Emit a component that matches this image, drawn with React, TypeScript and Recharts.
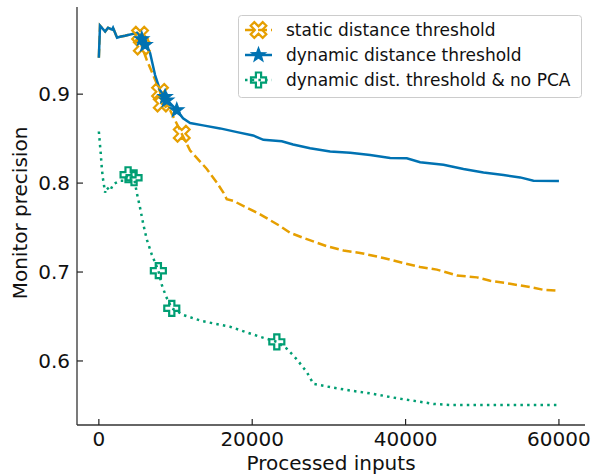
import React from "react";
import { LineChart, Line, XAxis, YAxis } from "recharts";

// values
const dynamicX = [0, 150, 822, 1200, 1722, 1852, 2374, 2765, 3417, 4983, 5600, 6030, 6680, 7330, 7980, 8640, 8850, 9290, 10160, 10980, 11900, 13590, 15810, 18030, 20110, 21460, 23860, 25330, 27550, 30160, 32770, 35380, 37990, 40160, 41900, 44940, 47550, 50160, 52770, 54940, 56680, 60000];
const dynamicY = [0.941, 0.977, 0.9705, 0.9747, 0.9725, 0.9747, 0.9634, 0.9645, 0.9657, 0.969, 0.962, 0.9555, 0.9464, 0.9215, 0.9045, 0.897, 0.893, 0.8898, 0.882, 0.8728, 0.8675, 0.8649, 0.8615, 0.8573, 0.8536, 0.8487, 0.8471, 0.8434, 0.8392, 0.8355, 0.834, 0.8317, 0.8283, 0.8279, 0.8234, 0.8207, 0.8159, 0.812, 0.8091, 0.8064, 0.8026, 0.8023];
const dynamicMarks = [5600, 6030, 8640, 8850, 10160];

const staticX = [0, 150, 822, 1200, 1722, 1852, 2374, 2765, 3417, 4983, 5370, 5600, 6250, 6900, 7550, 7980, 8200, 9290, 10810, 11900, 14080, 15380, 16240, 16680, 17540, 19290, 21030, 23640, 24950, 26680, 29730, 31900, 34070, 37110, 39720, 41900, 44080, 46690, 49300, 51030, 53640, 56250, 57990, 60000];
const staticY = [0.941, 0.977, 0.9705, 0.9747, 0.9725, 0.9747, 0.9634, 0.9645, 0.9657, 0.969, 0.9668, 0.9536, 0.9385, 0.9252, 0.9121, 0.9026, 0.8895, 0.8819, 0.8555, 0.8366, 0.8159, 0.8007, 0.7894, 0.7819, 0.78, 0.7724, 0.7649, 0.7517, 0.7441, 0.7384, 0.729, 0.7242, 0.7215, 0.7158, 0.7101, 0.7056, 0.7027, 0.6962, 0.694, 0.6902, 0.6868, 0.683, 0.68, 0.6789];
const staticMarks = [5370, 5600, 7980, 8200, 10810];

const noPcaX = [0, 250, 380, 510, 680, 810, 1030, 1460, 1890, 2770, 3200, 3810, 4590, 4940, 5370, 5800, 6250, 6900, 7760, 8200, 8770, 9510, 11020, 13420, 17110, 19720, 21030, 23210, 24510, 25810, 27120, 27980, 30160, 32770, 35810, 38860, 41470, 43640, 45800, 60000];
const noPcaY = [0.858, 0.8329, 0.8177, 0.8064, 0.797, 0.7894, 0.7951, 0.7913, 0.7989, 0.8026, 0.8026, 0.8094, 0.806, 0.7894, 0.7724, 0.7536, 0.7366, 0.7197, 0.7015, 0.6857, 0.6724, 0.6592, 0.6517, 0.6449, 0.6385, 0.6309, 0.6272, 0.6215, 0.6139, 0.6019, 0.5875, 0.5743, 0.5706, 0.5668, 0.563, 0.5581, 0.5547, 0.5517, 0.5505, 0.5505];
const noPcaMarks = [3810, 4590, 7760, 9510, 23210];

const xTicks = [0, 20000, 40000, 60000];
const yTicks = [0.6, 0.7, 0.8, 0.9];
const seriesNames = ["static distance threshold", "dynamic distance threshold", "dynamic dist. threshold & no PCA"];

const ORANGE = "#E69F00";
const BLUE = "#0072B2";
const GREEN = "#009E73";
const FONT = "DejaVu Sans, sans-serif";

const toRows = (xs: number[], ys: number[]) => xs.map((x, i) => ({ x, y: ys[i] }));
const staticData = toRows(staticX, staticY);
const dynamicData = toRows(dynamicX, dynamicY);
const noPcaData = toRows(noPcaX, noPcaY);

function plusPoints(cx: number, cy: number, r: number, w: number, rot = 0) {
  const pts = [[-w, -r], [w, -r], [w, -w], [r, -w], [r, w], [w, w], [w, r], [-w, r], [-w, w], [-r, w], [-r, -w], [-w, -w]];
  const c = Math.cos(rot), s = Math.sin(rot);
  return pts.map(([px, py]) => `${cx + px * c - py * s},${cy + px * s + py * c}`).join(" ");
}

function starPoints(cx: number, cy: number, ro: number, ri: number) {
  const out: string[] = [];
  for (let i = 0; i < 10; i++) {
    const r = i % 2 === 0 ? ro : ri;
    const a = -Math.PI / 2 + (i * Math.PI) / 5;
    out.push(`${cx + r * Math.cos(a)},${cy + r * Math.sin(a)}`);
  }
  return out.join(" ");
}

function Marker({ kind, cx, cy }: { kind: string; cx: number; cy: number }) {
  if (kind === "x")
    return <polygon points={plusPoints(cx, cy, 8.5, 2.6, Math.PI / 4)} fill="none" stroke={ORANGE} strokeWidth={2.2} strokeLinejoin="miter" />;
  if (kind === "star")
    return <polygon points={starPoints(cx, cy, 7.5, 3.1)} fill={BLUE} stroke={BLUE} strokeWidth={1.2} strokeLinejoin="miter" />;
  return <polygon points={plusPoints(cx, cy, 7.5, 2.6)} fill="none" stroke={GREEN} strokeWidth={2.2} strokeLinejoin="miter" />;
}

const dotFor = (kind: string, marks: number[]) => (props: any) => {
  const { cx, cy, payload, index } = props;
  if (!marks.includes(payload.x)) return <g key={`e-${kind}-${index}`} />;
  return <g key={`m-${kind}-${index}`}><Marker kind={kind} cx={cx} cy={cy} /></g>;
};

function XTick(props: any) {
  const { x, y, payload } = props;
  return (
    <g>
      <line x1={x} x2={x} y1={y} y2={y - 6} stroke="#222" strokeWidth={1.2} />
      <text x={x} y={y + 21} textAnchor="middle" fontSize={20} fontFamily={FONT} fill="#111">{payload.value}</text>
    </g>
  );
}

function YTick(props: any) {
  const { x, y, payload } = props;
  return (
    <g>
      <line x1={x} x2={x + 6} y1={y} y2={y} stroke="#222" strokeWidth={1.2} />
      <text x={x - 7} y={y + 7.3} textAnchor="end" fontSize={20} fontFamily={FONT} fill="#111">{payload.value.toFixed(1)}</text>
    </g>
  );
}

function LegendRow({ y, color, dash, kind, label }: { y: number; color: string; dash?: string; kind: string; label: string }) {
  return (
    <g>
      <line x1={245} x2={272} y1={y} y2={y} stroke={color} strokeWidth={2.5} strokeDasharray={dash} />
      <Marker kind={kind} cx={258.5} cy={y} />
      <text x={286} y={y + 6} fontSize={17} fontFamily={FONT} fill="#111">{label}</text>
    </g>
  );
}

export default function App() {
  return (
    <div style={{ position: "absolute", left: 0, top: 0, width: 592, height: 476, background: "#fff" }}>
      <LineChart width={592} height={476} margin={{ top: 7, right: 7, bottom: 0, left: 0 }}>
        <XAxis
          dataKey="x"
          type="number"
          domain={[-2850, 63400]}
          ticks={xTicks}
          height={51}
          tickSize={0}
          tickMargin={0}
          tickLine={false}
          axisLine={{ stroke: "#333", strokeWidth: 1.3 }}
          tick={(p: any) => <XTick {...p} />}
          allowDataOverflow
        />
        <YAxis
          dataKey="y"
          type="number"
          domain={[0.528, 0.998]}
          ticks={yTicks}
          width={77}
          tickSize={0}
          tickMargin={0}
          tickLine={false}
          axisLine={{ stroke: "#333", strokeWidth: 1.3 }}
          tick={(p: any) => <YTick {...p} />}
          allowDataOverflow
        />
        <Line data={staticData} dataKey="y" stroke={ORANGE} strokeWidth={2.5} strokeDasharray="9 4" dot={dotFor("x", staticMarks)} activeDot={false} isAnimationActive={false} type="linear" />
        <Line data={dynamicData} dataKey="y" stroke={BLUE} strokeWidth={2.5} dot={dotFor("star", dynamicMarks)} activeDot={false} isAnimationActive={false} type="linear" />
        <Line data={noPcaData} dataKey="y" stroke={GREEN} strokeWidth={2.5} strokeDasharray="2.5 4.2" dot={dotFor("plus", noPcaMarks)} activeDot={false} isAnimationActive={false} type="linear" />
      </LineChart>
      <svg width={592} height={476} style={{ position: "absolute", left: 0, top: 0, pointerEvents: "none" }}>
        <text x={331} y={470} textAnchor="middle" fontSize={20} fontFamily={FONT} fill="#111">Processed inputs</text>
        <text x={27} y={213} textAnchor="middle" fontSize={20} fontFamily={FONT} fill="#111" transform="rotate(-90 27 213)">Monitor precision</text>
        <rect x={238.5} y={15.5} width={343} height={82} rx={3} fill="#fff" fillOpacity={0.8} stroke="#ccc" />
        <LegendRow y={30} color={ORANGE} dash="9 4" kind="x" label={seriesNames[0]} />
        <LegendRow y={55} color={BLUE} kind="star" label={seriesNames[1]} />
        <LegendRow y={80} color={GREEN} dash="2.5 4.2" kind="plus" label={seriesNames[2]} />
      </svg>
    </div>
  );
}
